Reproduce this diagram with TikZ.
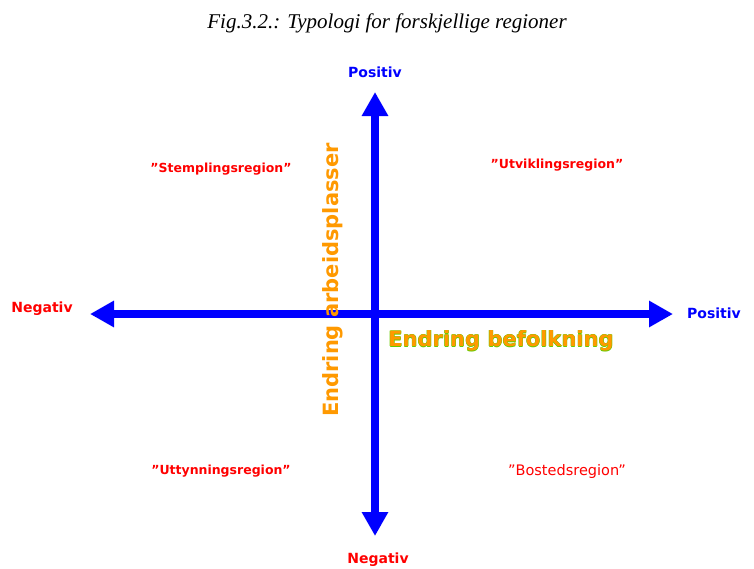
\documentclass[tikz,border=0pt]{standalone}
\usepackage{fontspec}
\setmainfont{Liberation Serif}
\newfontfamily\labelfont{DejaVu Sans}
\usetikzlibrary{arrows.meta}
\definecolor{axisblue}{RGB}{0,0,255}
\definecolor{regionred}{RGB}{255,0,0}
\definecolor{titleorange}{RGB}{255,153,0}
\definecolor{rimgreen}{RGB}{102,204,0}
\tikzset{
  axis/.style={line width=8pt, axisblue, -{Triangle[length=24pt,width=25pt]}},
  endpos/.style={text=axisblue, font=\labelfont\bfseries\fontsize{14}{16}\selectfont},
  endneg/.style={text=regionred, font=\labelfont\bfseries\fontsize{14}{16}\selectfont},
  region/.style={text=regionred, font=\labelfont\bfseries\fontsize{12.5}{14}\selectfont},
  axistitle/.style={text=titleorange, font=\labelfont\bfseries\fontsize{21}{24}\selectfont}
}
\begin{document}
\begin{tikzpicture}[x=1pt,y=-1pt]
    \useasboundingbox (0,0) rectangle (754,568);
    \node[font=\itshape\fontsize{21}{24}\selectfont] (title) at (387,23)
      {Fig.3.2.: Typologi for forskjellige regioner};
    % akser
    \coordinate (o) at (375,314);
    \coordinate (left) at (90,314);
    \coordinate (right) at (673,314);
    \coordinate (top) at (375,92);
    \coordinate (bottom) at (375,536);
    \draw[axis] (o) -- (left);
    \draw[axis] (o) -- (right);
    \draw[axis] (o) -- (top);
    \draw[axis] (o) -- (bottom);
    \node[endpos] (ytop) at (375,72) {Positiv};
    \node[endneg] (ybot) at (378,560) {Negativ};
    \node[endneg] (xleft) at (42,309) {Negativ};
    \node[endpos] (xright) at (714,313) {Positiv};
    % kvadranter
    \node[region] (nw) at (221,169) {”Stemplingsregion”};
    \node[region] (ne) at (557,165) {”Utviklingsregion”};
    \node[region] (sw) at (221,471) {”Uttynningsregion”};
    \node[region, font=\labelfont\fontsize{14.5}{16}\selectfont] (se) at (567,471)
      {”Bostedsregion”};
    % aksetitler
    \foreach \dx/\dy in {-0.4/0,0.4/0,0/-0.4,0/0.4} {
      \node[axistitle, text=rimgreen] at (501+\dx,341+\dy) {Endring befolkning};
    }
    \node[axistitle] (xtitle) at (501,341) {Endring befolkning};
    \node[axistitle, rotate=90] (ytitle) at (333,280) {Endring arbeidsplasser};
\end{tikzpicture}
\end{document}
